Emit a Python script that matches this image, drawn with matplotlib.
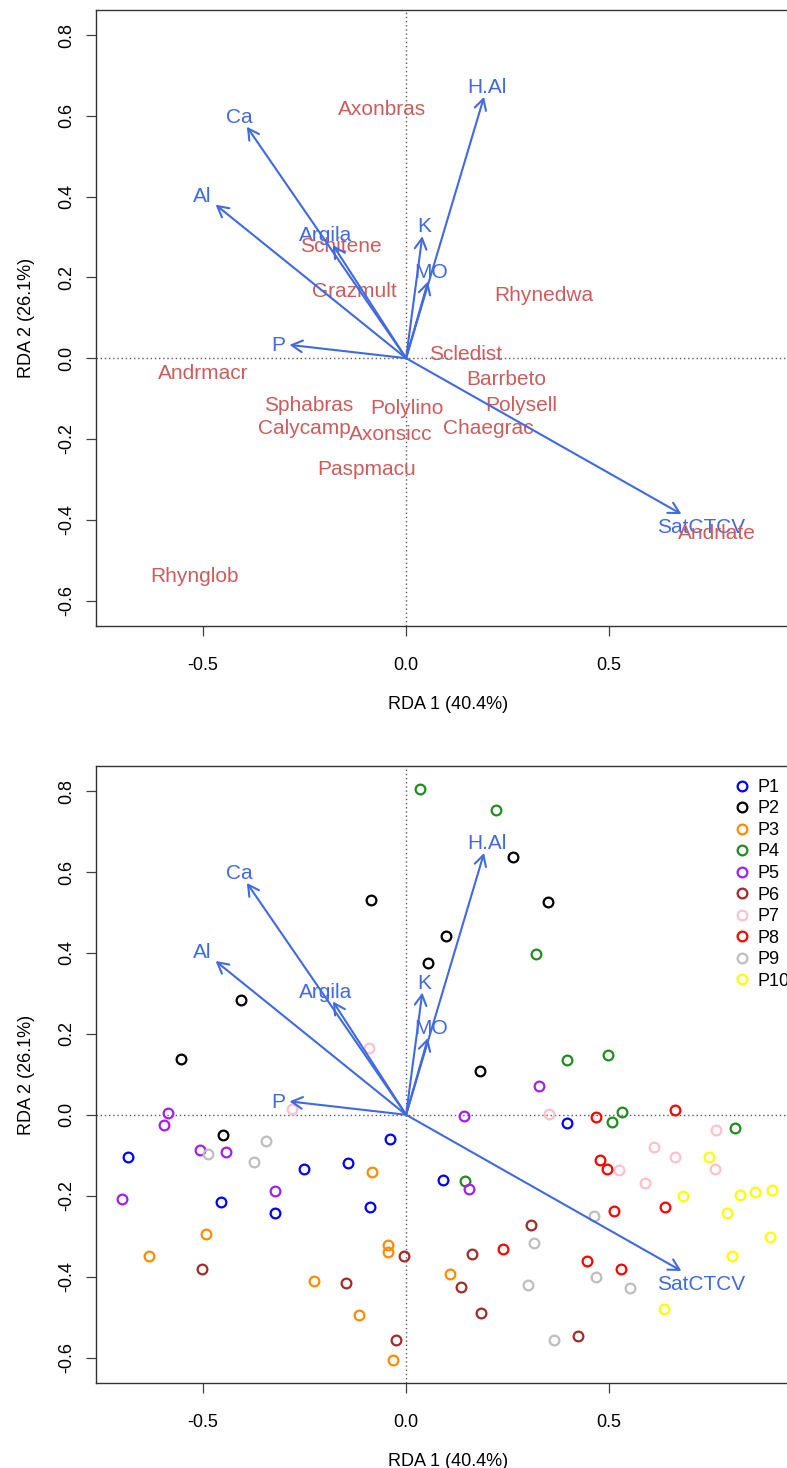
import numpy as np
import matplotlib
matplotlib.use("Agg")
import matplotlib.pyplot as plt

plt.rcParams['font.family'] = ['Liberation Sans', 'DejaVu Sans']
plt.rcParams['axes.unicode_minus'] = False

# species scores (top panel)
sp_names = ["Axonbras", "Schitene", "Grazmult", "Rhynedwa", "Scledist", "Andrmacr",
            "Barrbeto", "Sphabras", "Polylino", "Polysell", "Calycamp", "Axonsicc",
            "Chaegrac", "Paspmacu", "Andrlate", "Rhynglob"]
sp_x = [-0.059, -0.160, -0.128, 0.340, 0.146, -0.500, 0.246, -0.241, 0.002, 0.283,
        -0.251, -0.037, 0.202, -0.096, 0.766, -0.520]
sp_y = [0.621, 0.282, 0.171, 0.161, 0.015, -0.032, -0.047, -0.111, -0.119, -0.111,
        -0.168, -0.183, -0.168, -0.270, -0.430, -0.535]

# biplot arrows (environmental variables)
env_names = ["Ca", "Al", "Argila", "K", "MO", "H.Al", "P", "SatCTCV"]
env_x = [-0.392, -0.469, -0.180, 0.040, 0.054, 0.192, -0.287, 0.678]
env_y = [0.573, 0.380, 0.280, 0.302, 0.190, 0.647, 0.033, -0.386]

# site scores (bottom panel), 9 sites per plot
plots = ["P1", "P2", "P3", "P4", "P5", "P6", "P7", "P8", "P9", "P10"]
site_x = [
    [-0.685, -0.456, -0.323, -0.251, -0.039, -0.143, -0.089, 0.091, 0.397],
    [-0.406, -0.554, -0.086, 0.264, 0.350, 0.099, 0.054, 0.182, -0.451],
    [-0.493, -0.633, -0.227, -0.084, -0.044, -0.045, -0.116, -0.032, 0.108],
    [0.034, 0.222, 0.320, 0.397, 0.497, 0.145, 0.532, 0.507, 0.811],
    [-0.586, -0.596, -0.507, -0.443, -0.700, -0.323, 0.328, 0.143, 0.155],
    [-0.502, -0.006, -0.148, -0.025, 0.162, 0.136, 0.184, 0.307, 0.423],
    [-0.091, -0.281, 0.352, 0.764, 0.611, 0.663, 0.524, 0.589, 0.761],
    [0.468, 0.663, 0.478, 0.494, 0.513, 0.638, 0.446, 0.529, 0.239],
    [-0.487, -0.345, -0.375, 0.316, 0.300, 0.365, 0.462, 0.468, 0.552],
    [0.747, 0.683, 0.823, 0.860, 0.901, 0.791, 0.897, 0.803, 0.635],
]
site_y = [
    [-0.104, -0.215, -0.242, -0.133, -0.059, -0.119, -0.227, -0.161, -0.020],
    [0.284, 0.138, 0.531, 0.637, 0.526, 0.442, 0.375, 0.109, -0.049],
    [-0.294, -0.348, -0.412, -0.141, -0.323, -0.340, -0.494, -0.607, -0.393],
    [0.805, 0.753, 0.398, 0.136, 0.148, -0.163, 0.007, -0.017, -0.032],
    [0.005, -0.025, -0.086, -0.091, -0.207, -0.188, 0.072, -0.004, -0.183],
    [-0.382, -0.350, -0.417, -0.556, -0.344, -0.425, -0.491, -0.272, -0.547],
    [0.165, 0.015, 0.002, -0.037, -0.079, -0.104, -0.137, -0.168, -0.134],
    [-0.005, 0.012, -0.113, -0.133, -0.237, -0.229, -0.362, -0.382, -0.331],
    [-0.097, -0.064, -0.116, -0.318, -0.422, -0.556, -0.251, -0.402, -0.429],
    [-0.104, -0.202, -0.199, -0.190, -0.186, -0.242, -0.302, -0.350, -0.481],
]
plot_cols = ["#0000FF", "#000000", "#FF8C00", "#228B22", "#A020F0", "#A52A2A",
             "#FFC0CB", "#FF0000", "#BEBEBE", "#FFFF00"]

xlab = "RDA 1 (40.4%)"
ylab = "RDA 2 (26.1%)"

blue = "#4169E1"
red = "#CD5C5C"
LBL = 15

fig = plt.figure(figsize=(7.87, 14.68), dpi=100)
ax1 = fig.add_axes([96/787, 1-626/1468, 704/787, 616/1468])
ax2 = fig.add_axes([96/787, 1-1383/1468, 704/787, 617/1468])


def setup(ax):
    ax.set_xlim(-0.7635, 0.970)
    ax.set_ylim(-0.663, 0.862)
    ax.axhline(0, color="0.35", lw=1, ls=(0, (1, 2)), zorder=1)
    ax.axvline(0, color="0.35", lw=1, ls=(0, (1, 2)), zorder=1)
    ax.set_xticks([-0.5, 0.0, 0.5])
    ax.set_xticklabels(["-0.5", "0.0", "0.5"])
    yt = np.arange(-0.6, 0.81, 0.2)
    ax.set_yticks(yt)
    ax.set_yticklabels(["%.1f" % v for v in yt], rotation=90, va="center")
    ax.tick_params(direction="out", length=7, width=0.9, labelsize=13, color="0.25")
    ax.tick_params(axis="x", pad=15)
    ax.tick_params(axis="y", pad=8)
    for s in ax.spines.values():
        s.set_color("0.2")
        s.set_linewidth(1)
    ax.set_xlabel(xlab, fontsize=13, labelpad=16)
    ax.set_ylabel(ylab, fontsize=13, labelpad=17)


def biplot(ax):
    fig.canvas.draw()
    r = fig.canvas.get_renderer()
    inv = ax.transData.inverted()
    for name, vx, vy in zip(env_names, env_x, env_y):
        ax.annotate("", xy=(vx, vy), xytext=(0, 0),
                    arrowprops=dict(arrowstyle="->,head_length=0.55,head_width=0.3",
                                    color=blue, lw=1.5, shrinkA=0, shrinkB=0,
                                    mutation_scale=14), zorder=4)
        t = ax.text(0, 0, name, fontsize=LBL, color=blue, ha="center",
                    va="center_baseline", zorder=2)
        bb = t.get_window_extent(r)
        p0 = inv.transform((0, 0))
        w = inv.transform((bb.width, 0))[0] - p0[0]
        h = abs(p0[1] - inv.transform((0, 0.72 * LBL * fig.dpi / 72))[1])
        # label placement like vegan's ordiArrowTextXY
        ox = np.sign(vx) * (w / 2 + h / 4)
        oy = 0.75 * h * np.sign(vy)
        b = vy / vx
        move = oy / b
        if np.isfinite(move) and abs(move) <= abs(ox):
            ox = move
        else:
            oy = b * ox
        t.set_position((vx + ox, vy + oy))


setup(ax1)
setup(ax2)

biplot(ax1)
for name, x, y in zip(sp_names, sp_x, sp_y):
    ax1.text(x, y, name, fontsize=LBL, color=red, ha="center", va="center_baseline", zorder=3)

for lab, xs, ys, c in zip(plots, site_x, site_y, plot_cols):
    ax2.plot(xs, ys, ls="none", marker="o", ms=7, mfc="none", mec=c, mew=1.6,
             label=lab, zorder=3)
biplot(ax2)
ax2.legend(loc="upper left", bbox_to_anchor=(0.907, 0.979), frameon=False, fontsize=13,
           handlelength=0.8, handletextpad=0.45, labelspacing=0.25, borderpad=0,
           borderaxespad=0)

fig.savefig("out.png", dpi=100)
